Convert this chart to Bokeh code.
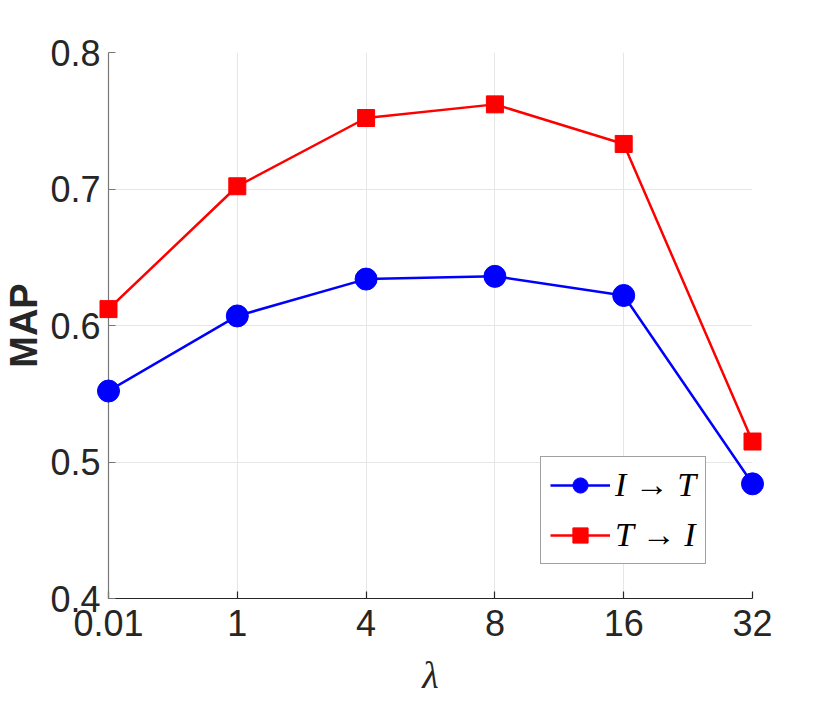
from bokeh.plotting import figure
from bokeh.models import Range1d, FixedTicker, Legend, LegendItem
from bokeh.embed import file_html
from bokeh.resources import INLINE

lambdas = ["0.01", "1", "4", "8", "16", "32"]
i2t = [0.552, 0.607, 0.634, 0.636, 0.622, 0.484]
t2i = [0.612, 0.702, 0.752, 0.762, 0.733, 0.515]
yticks = [0.4, 0.5, 0.6, 0.7, 0.8]

xs = list(range(len(lambdas)))

p = figure(width=822, height=698, output_backend="svg", toolbar_location=None,
           x_range=Range1d(0, len(lambdas) - 1), y_range=Range1d(0.4, 0.8),
           min_border_left=108, min_border_right=70, min_border_top=52, min_border_bottom=100)
p.outline_line_color = None
p.background_fill_color = "white"
p.border_fill_color = "white"

p.xaxis.ticker = FixedTicker(ticks=xs)
p.xaxis.major_label_overrides = {i: s for i, s in enumerate(lambdas)}
p.yaxis.ticker = FixedTicker(ticks=yticks)
p.yaxis.major_label_overrides = {0.4: "0.4", 0.5: "0.5", 0.6: "0.6", 0.7: "0.7", 0.8: "0.8"}

for ax in (p.xaxis[0], p.yaxis[0]):
    ax.major_label_text_font = "Liberation Sans"
    ax.major_label_text_font_size = "36px"
    ax.major_label_text_color = "#262626"
    ax.major_tick_in = 7
    ax.major_tick_out = 0
    ax.minor_tick_line_color = None
    ax.axis_line_width = 1.2
    ax.major_tick_line_width = 1.2
p.xaxis.axis_line_color = "#262626"
p.xaxis.major_tick_line_color = "#262626"
p.yaxis.axis_line_color = "#777777"
p.yaxis.major_tick_line_color = "#777777"
p.xaxis.major_label_standoff = 11
p.yaxis.major_label_standoff = 8

p.xaxis.axis_label = "λ"
p.xaxis.axis_label_text_font = "Liberation Serif"
p.xaxis.axis_label_text_font_style = "italic"
p.xaxis.axis_label_text_font_size = "38px"
p.xaxis.axis_label_text_color = "#262626"
p.xaxis.axis_label_standoff = 15

p.yaxis.axis_label = "MAP"
p.yaxis.axis_label_text_font = "Liberation Sans"
p.yaxis.axis_label_text_font_style = "bold"
p.yaxis.axis_label_text_font_size = "38px"
p.yaxis.axis_label_text_color = "#262626"
p.yaxis.axis_label_standoff = 2

p.xgrid.grid_line_color = "#e6e6e6"
p.ygrid.grid_line_color = "#e6e6e6"
p.xgrid.grid_line_width = 1
p.ygrid.grid_line_width = 1

l1 = p.line(xs, i2t, line_color="blue", line_width=2.5)
s1 = p.scatter(xs, i2t, marker="circle", size=22, fill_color="blue", line_color="blue", level="overlay")
l2 = p.line(xs, t2i, line_color="red", line_width=2.5)
s2 = p.scatter(xs, t2i, marker="square", size=17, fill_color="red", line_color="red", level="overlay")

legend = Legend(items=[LegendItem(label="I → T", renderers=[l1, s1]),
                       LegendItem(label="T → I", renderers=[l2, s2])],
                location=(432, 34))
legend.label_text_font = "Liberation Serif"
legend.label_text_font_style = "italic"
legend.label_text_font_size = "34px"
legend.label_text_color = "black"
legend.glyph_width = 60
legend.glyph_height = 38
legend.label_standoff = 5
legend.spacing = 12
legend.padding = 9
legend.margin = 0
legend.border_line_color = "#444444"
legend.border_line_width = 1
legend.background_fill_color = "white"
legend.background_fill_alpha = 1
p.add_layout(legend, "center")

open("out.html", "w").write(file_html(p, INLINE))
